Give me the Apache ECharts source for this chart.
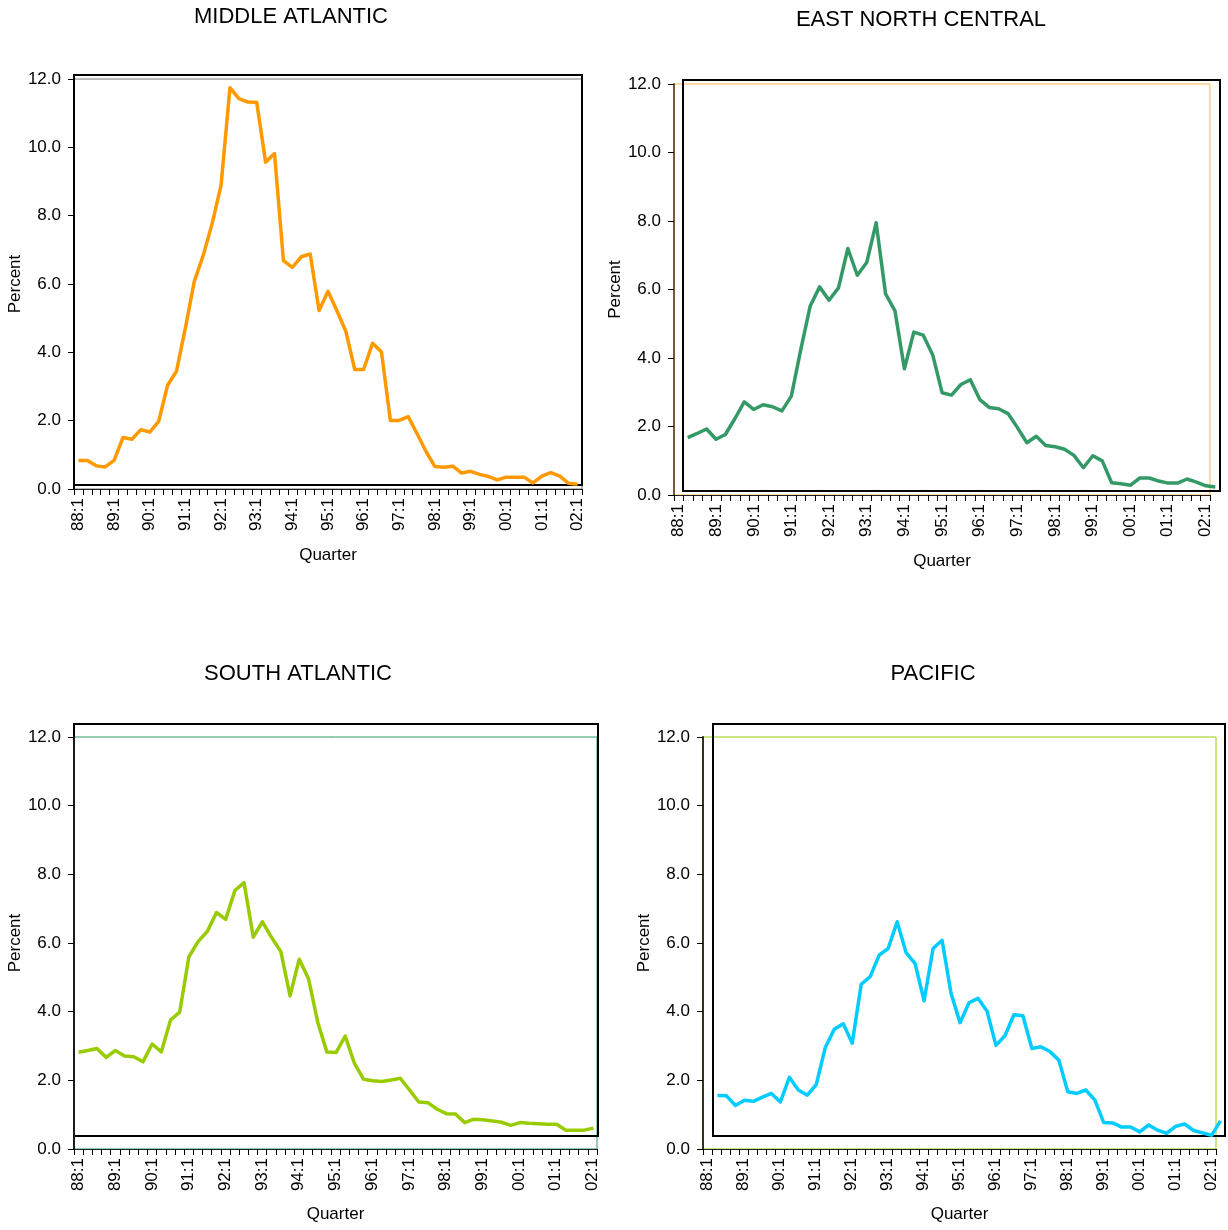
<!DOCTYPE html>
<html><head><meta charset="utf-8">
<script src="https://cdn.jsdelivr.net/npm/echarts@6/dist/echarts.min.js"></script>
<style>html,body{margin:0;padding:0;background:#fff}#c{width:1228px;height:1230px}</style>
</head><body><div id="c"></div>
<script>
const quarters = ['88:1','88:2','88:3','88:4','89:1','89:2','89:3','89:4','90:1','90:2','90:3','90:4',
 '91:1','91:2','91:3','91:4','92:1','92:2','92:3','92:4','93:1','93:2','93:3','93:4',
 '94:1','94:2','94:3','94:4','95:1','95:2','95:3','95:4','96:1','96:2','96:3','96:4',
 '97:1','97:2','97:3','97:4','98:1','98:2','98:3','98:4','99:1','99:2','99:3','99:4',
 '00:1','00:2','00:3','00:4','01:1','01:2','01:3','01:4','02:1'];

const middleAtlantic = [0.72,0.72,0.56,0.53,0.72,1.39,1.34,1.62,1.55,1.86,2.92,3.33,4.6,5.96,6.72,7.65,8.77,11.63,11.31,11.21,11.2,9.45,9.7,6.57,6.37,6.68,6.76,5.11,5.67,5.1,4.5,3.38,3.38,4.15,3.89,1.89,1.89,2.0,1.5,0.98,0.54,0.52,0.55,0.35,0.4,0.31,0.25,0.15,0.23,0.23,0.23,0.06,0.26,0.36,0.26,0.05,0.02];
const eastNorthCentral = [1.56,1.68,1.81,1.51,1.65,2.11,2.6,2.38,2.52,2.46,2.34,2.77,4.13,5.4,5.96,5.57,5.93,7.08,6.3,6.67,7.83,5.76,5.26,3.57,4.64,4.55,3.98,2.87,2.8,3.11,3.25,2.67,2.44,2.4,2.26,1.85,1.41,1.6,1.33,1.29,1.22,1.04,0.68,1.03,0.88,0.24,0.21,0.17,0.38,0.38,0.29,0.23,0.23,0.35,0.26,0.15,0.12];
const southAtlantic = [2.44,2.49,2.55,2.29,2.49,2.33,2.31,2.16,2.68,2.45,3.38,3.61,5.22,5.66,5.96,6.51,6.31,7.15,7.38,5.79,6.24,5.78,5.37,4.08,5.15,4.59,3.33,2.45,2.43,2.91,2.12,1.65,1.61,1.59,1.63,1.68,1.34,0.99,0.97,0.78,0.65,0.64,0.39,0.49,0.47,0.44,0.4,0.31,0.39,0.37,0.36,0.34,0.34,0.17,0.17,0.17,0.23];
const pacific = [1.18,1.17,0.89,1.04,1.01,1.13,1.24,0.99,1.71,1.34,1.19,1.5,2.58,3.11,3.27,2.7,4.42,4.64,5.27,5.46,6.24,5.34,5.02,3.94,5.46,5.7,4.16,3.3,3.88,4.01,3.64,2.64,2.92,3.53,3.5,2.55,2.6,2.46,2.21,1.29,1.24,1.34,1.05,0.39,0.38,0.26,0.26,0.12,0.32,0.17,0.08,0.28,0.35,0.16,0.09,0.02,0.44];

const titles = ['MIDDLE ATLANTIC','EAST NORTH CENTRAL','SOUTH ATLANTIC','PACIFIC'];
const yMin = 0, yMax = 12, yStep = 2;

const FONT = "'Liberation Sans', Arial, sans-serif";

const panels = [
  {title: titles[0], data: middleAtlantic, color: '#FF9900', tx: 291, ty: 17,
   axisBox: {left: 74, top: 79, width: 508, height: 410},
   frameBox: {left: 74, top: 75, width: 508, height: 410},
   border: '#777777', yLine: '#000000', xGap: 58, yGap: 50},
  {title: titles[1], data: eastNorthCentral, color: '#339966', tx: 921, ty: 20,
   axisBox: {left: 674, top: 84, width: 536, height: 411},
   frameBox: {left: 683, top: 80, width: 537, height: 411},
   border: '#FFB84D', yLine: '#7A5A2A', xGap: 58, yGap: 48},
  {title: titles[2], data: southAtlantic, color: '#99CC00', tx: 298, ty: 674,
   axisBox: {left: 74, top: 737, width: 523, height: 412},
   frameBox: {left: 74, top: 724, width: 524, height: 412},
   border: '#339966', yLine: '#1a1a1a', xGap: 57, yGap: 50},
  {title: titles[3], data: pacific, color: '#00CCFF', tx: 933, ty: 674,
   axisBox: {left: 703, top: 737, width: 513, height: 412},
   frameBox: {left: 713, top: 724, width: 512, height: 412},
   border: '#99CC00', yLine: '#33331a', xGap: 57, yGap: 49}
];

const grid = [], xAxis = [], yAxis = [], series = [], graphic = [];
panels.forEach((p, i) => {
  const gA = 2 * i, gF = 2 * i + 1;
  grid.push(Object.assign({show: true, borderColor: p.border, borderWidth: 1, backgroundColor: 'transparent', z: 0}, p.axisBox));
  grid.push(Object.assign({show: true, borderColor: '#000', borderWidth: 2, backgroundColor: 'transparent', z: 2}, p.frameBox));
  xAxis.push({
    gridIndex: gA, type: 'category', data: quarters, boundaryGap: true, z: 3,
    axisLine: {show: true, lineStyle: {color: '#222', width: 1}},
    axisTick: {show: true, interval: 0, length: 6, lineStyle: {color: '#000', width: 1}},
    axisLabel: {interval: 3, rotate: 90, fontSize: 17, color: '#000', margin: 9, fontFamily: FONT},
    splitLine: {show: false},
    name: 'Quarter', nameLocation: 'middle', nameGap: p.xGap,
    nameTextStyle: {fontSize: 17, color: '#000', fontFamily: FONT}
  });
  xAxis.push({gridIndex: gF, type: 'category', data: quarters, boundaryGap: true, show: false});
  yAxis.push({
    gridIndex: gA, type: 'value', min: yMin, max: yMax, interval: yStep, z: 3,
    axisLine: {show: true, lineStyle: {color: p.yLine, width: 2}},
    axisTick: {show: true, length: 6, lineStyle: {color: '#000', width: 1}},
    axisLabel: {formatter: v => v.toFixed(1), fontSize: 17, color: '#000', margin: 13, fontFamily: FONT},
    splitLine: {show: false},
    name: 'Percent', nameLocation: 'middle', nameGap: p.yGap,
    nameTextStyle: {fontSize: 17, color: '#000', fontFamily: FONT}
  });
  yAxis.push({gridIndex: gF, type: 'value', min: yMin, max: yMax, show: false});
  series.push({
    type: 'line', name: p.title, xAxisIndex: gF, yAxisIndex: gF, data: p.data,
    symbol: 'none', smooth: false, z: 5,
    lineStyle: {color: p.color, width: 3.5, join: 'round'}
  });
  graphic.push({type: 'text', x: p.tx, y: p.ty,
    style: {text: p.title, fill: '#000', font: '22px ' + FONT, align: 'center', verticalAlign: 'middle',
            textAlign: 'center', textVerticalAlign: 'middle'}});
});

const chart = echarts.init(document.getElementById('c'), null, {renderer: 'canvas'});
chart.setOption({
  animation: false,
  backgroundColor: '#fff',
  textStyle: {fontFamily: FONT},
  grid, xAxis, yAxis, series, graphic
});
</script></body></html>
